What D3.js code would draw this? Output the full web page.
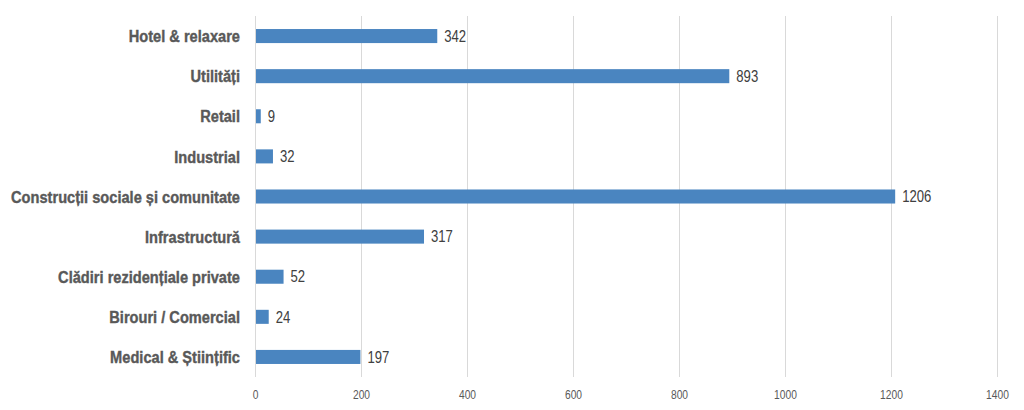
<!DOCTYPE html>
<html><head><meta charset="utf-8">
<script src="https://cdn.jsdelivr.net/npm/d3@7"></script>
<style>body{margin:0;background:#fff}</style>
</head><body>
<svg id="c" width="1024" height="410"></svg>
<script>
const categories = ["Hotel & relaxare","Utilități","Retail","Industrial","Construcții sociale și comunitate","Infrastructură","Clădiri rezidențiale private","Birouri / Comercial","Medical & Științific"];
const values = [342,893,9,32,1206,317,52,24,197];
const ticks = [0,200,400,600,800,1000,1200,1400];

(function(){
const svg = d3.select("#c");
const mLeft = 255, mRight = 997, mTop = 16, mBottom = 377;
const FONT = "'Liberation Sans',Arial,sans-serif";
const SX = 0.82;
const x = d3.scaleLinear().domain([0,1400]).range([mLeft,mRight]);
const y = d3.scaleBand().domain(categories).range([mTop,mBottom]).paddingInner(0.65).paddingOuter(0.325);

svg.append("g").selectAll("line").data(ticks).join("line")
  .attr("x1",d=>Math.round(x(d))+0.5).attr("x2",d=>Math.round(x(d))+0.5).attr("y1",mTop).attr("y2",mBottom)
  .attr("stroke","#d9d9d9").attr("stroke-width",1);

svg.append("g").selectAll("rect").data(values).join("rect")
  .attr("x",x(0)+1).attr("y",(d,i)=>y(categories[i]))
  .attr("width",d=>x(d)-x(0)).attr("height",y.bandwidth())
  .attr("fill","#4a85c0");

svg.append("g").selectAll("text").data(values).join("text")
  .attr("transform",(d,i)=>`translate(${x(d)+8},${y(categories[i])+y.bandwidth()/2}) scale(${SX},1)`)
  .attr("dy","0.36em").text(d=>d)
  .attr("font-family",FONT)
  .attr("font-size",16).attr("fill","#404040");

svg.append("g").selectAll("text").data(categories).join("text")
  .attr("transform",d=>`translate(240,${y(d)+y.bandwidth()/2}) scale(0.86,1)`)
  .attr("dy","0.36em")
  .attr("text-anchor","end").text(d=>d)
  .attr("font-family",FONT)
  .attr("font-weight","bold").attr("font-size",17)
  .attr("fill","#595959").attr("stroke","#595959").attr("stroke-width",0.4);

const xa = d3.axisBottom(x).tickValues(ticks).tickSize(0).tickPadding(0).tickFormat(d3.format("d"));
const g = svg.append("g").attr("transform",`translate(0,${mBottom+13})`).call(xa);
g.select(".domain").remove();
g.selectAll("text").attr("font-family",FONT).attr("transform",`scale(${SX},1)`)
  .attr("font-size",12.5).attr("fill","#595959");
})();
</script>
</body></html>
